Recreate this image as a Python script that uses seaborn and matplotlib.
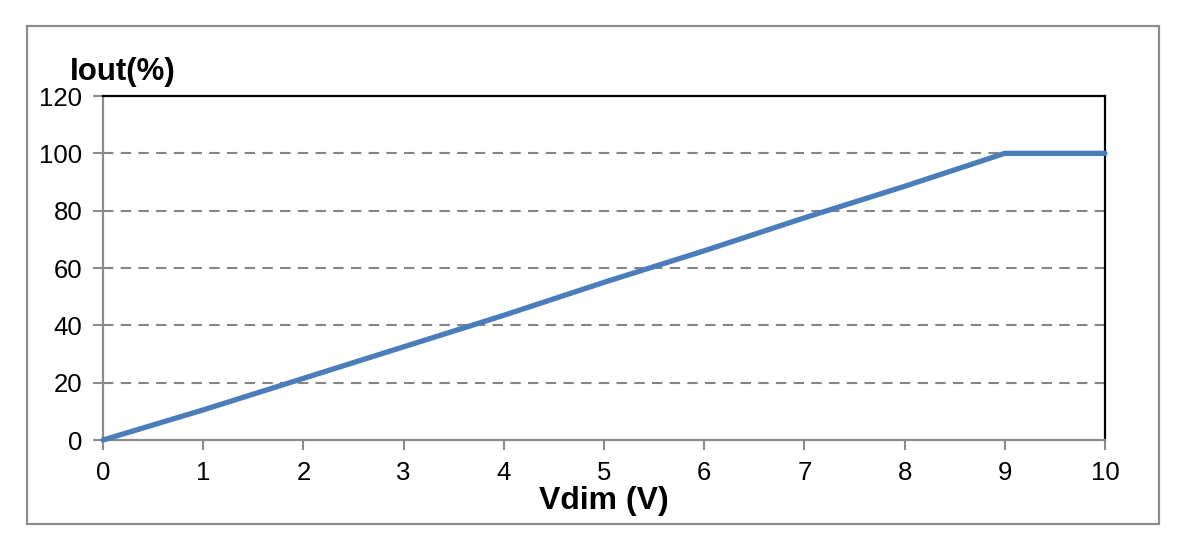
import numpy as np
import pandas as pd
import matplotlib
matplotlib.use("Agg")
import matplotlib.pyplot as plt
import seaborn as sns
from matplotlib.patches import Rectangle

# Dimming curve values
vdim = [0, 1, 2, 3, 4, 5, 6, 7, 8, 9, 10]
iout = [0, 10.5, 21.5, 32.5, 43.5, 55, 66, 77.5, 88.5, 100, 100]
x_ticks = [0, 1, 2, 3, 4, 5, 6, 7, 8, 9, 10]
y_ticks = [0, 20, 40, 60, 80, 100, 120]

df = pd.DataFrame({"Vdim": vdim, "Iout": iout})

sns.set_style("white")
plt.rcParams['font.family'] = ['Liberation Sans', 'DejaVu Sans']
plt.rcParams['text.color'] = 'black'

W, H = 1185, 551
fig = plt.figure(figsize=(W / 100, H / 100), dpi=100)
ax = fig.add_axes([103 / W, 1 - 440 / H, (1105 - 103) / W, (440 - 96) / H])

# outer frame around the chart
fig.patches.append(Rectangle((27 / W, 1 - 524 / H), (1159 - 27) / W, (524 - 26) / H,
                             transform=fig.transFigure, fill=False,
                             edgecolor="#8c8c8c", linewidth=1.6))

for y in y_ticks[1:-1]:
    ax.axhline(y, color="#858585", linestyle=(0, (5, 3.5)), linewidth=1.5, zorder=1)

sns.lineplot(data=df, x="Vdim", y="Iout", ax=ax, color="#4a7ebb",
             linewidth=3.8, zorder=3, clip_on=False)

ax.set_xlim(0, 10)
ax.set_ylim(0, 120)
ax.set_xticks(x_ticks)
ax.set_yticks(y_ticks)
ax.tick_params(axis="both", direction="out", length=7, width=1.5,
               color="#8c8c8c", labelsize=18.5, labelcolor="black",
               bottom=True, left=True)
ax.tick_params(axis="y", pad=8)
ax.tick_params(axis="x", pad=8)

for s in ["left", "bottom"]:
    ax.spines[s].set_color("#8c8c8c")
    ax.spines[s].set_linewidth(1.6)
for s in ["top", "right"]:
    ax.spines[s].set_color("black")
    ax.spines[s].set_linewidth(1.6)
    ax.spines[s].set_visible(True)

ax.set_xlabel("Vdim (V)", fontsize=23, fontweight="bold", labelpad=1,
              color="black")
ax.set_ylabel("")
fig.text(70 / W, 1 - 80 / H, "Iout(%)", fontsize=22.5, fontweight="bold",
         ha="left", va="baseline", color="black")

fig.savefig("out.png", dpi=100)
